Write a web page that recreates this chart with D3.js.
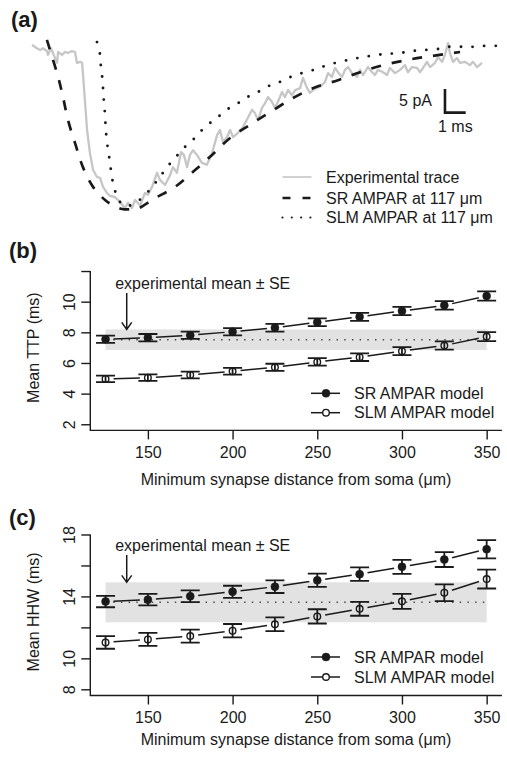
<!DOCTYPE html>
<html>
<head>
<meta charset="utf-8">
<script src="https://cdn.jsdelivr.net/npm/d3@7"></script>
<style>
  body { margin: 0; background: #fff; }
  svg text { font-family: "Liberation Sans", Arial, Helvetica, sans-serif; fill: #1a1a1a; }
</style>
</head>
<body>
<svg id="fig" width="507" height="757"></svg>
<script>
// ---------- panel (a): traces, [time (ms), current (pA)] ----------
const expTrace = [
  [0,-0.2],[0.24,-0.9],[0.39,-1.3],[0.53,-0.9],[0.72,-1.5],[0.77,-2.3],[0.92,-0.9],[1.01,-1.9],
  [1.21,-4.0],[1.26,-1.7],[1.45,-2.3],[1.59,-1.7],[1.74,-1.9],[1.93,-1.5],[2.08,-1.7],[2.17,-4.0],
  [2.32,-3.8],[2.42,-4.0],[2.46,-6.2],[2.66,-18.3],[2.80,-23.2],[2.95,-26.8],[3.14,-28.3],[3.29,-28.5],
  [3.43,-30.4],[3.62,-31.7],[3.77,-32.3],[4.01,-32.6],[4.25,-33.6],[4.49,-34.9],[4.64,-33.8],[4.83,-34.9],
  [4.98,-33.2],[5.22,-34.3],[5.46,-31.7],[5.60,-32.1],[5.80,-30.4],[6.04,-27.4],[6.18,-28.9],[6.43,-30.0],
  [6.67,-27.9],[6.81,-26.2],[7.00,-27.4],[7.20,-23.0],[7.34,-23.6],[7.49,-26.2],[7.63,-23.6],[7.78,-22.6],
  [7.97,-23.6],[8.21,-25.3],[8.45,-25.7],[8.70,-23.2],[8.94,-19.4],[9.08,-18.3],[9.23,-20.9],[9.42,-19.8],
  [9.57,-18.3],[9.71,-19.8],[9.95,-18.9],[10.19,-17.7],[10.43,-15.7],[10.63,-14.0],[10.77,-14.7],[10.92,-16.2],
  [11.11,-13.6],[11.26,-12.6],[11.40,-11.3],[11.59,-12.3],[11.74,-13.6],[11.88,-12.3],[12.08,-10.2],[12.22,-11.3],
  [12.37,-9.8],[12.56,-10.9],[12.71,-9.8],[12.95,-9.4],[13.09,-7.2],[13.29,-9.4],[13.43,-10.4],[13.57,-9.8],
  [13.91,-9.1],[14.15,-8.1],[14.30,-6.2],[14.49,-7.0],[14.64,-5.1],[14.78,-6.0],[14.98,-7.0],[15.12,-5.5],
  [15.27,-4.9],[15.46,-6.2],[15.70,-7.0],[15.85,-5.5],[15.99,-6.6],[16.23,-4.9],[16.43,-6.0],[16.57,-6.6],
  [16.71,-5.5],[16.96,-6.0],[17.15,-6.6],[17.29,-5.1],[17.54,-6.2],[17.78,-5.5],[18.02,-4.5],[18.16,-6.0],
  [18.36,-4.9],[18.60,-5.1],[18.74,-6.0],[18.89,-5.1],[19.08,-3.8],[19.23,-4.9],[19.47,-4.0],[19.61,-2.8],
  [19.81,-3.8],[19.95,-2.3],[20.10,0.2],[20.19,-1.9],[20.34,-3.8],[20.53,-3.0],[20.68,-4.0],[20.92,-3.8],
  [21.16,-4.5],[21.30,-3.8],[21.50,-4.9],[21.74,-4.0]
];
const srTrace = [
  [0.72,0.9],[0.87,-1.3],[1.26,-7.0],[1.50,-11.3],[1.74,-16.2],[2.08,-21.1],[2.46,-26.2],[2.95,-30.4],
  [3.53,-33.2],[3.91,-34.3],[4.35,-35.1],[4.73,-35.2],[5.07,-35.1],[5.94,-32.8],[6.91,-30.4],[7.78,-27.2],
  [8.70,-23.6],[9.57,-20.0],[10.53,-17.2],[11.50,-14.5],[12.61,-11.5],[13.57,-9.4],[14.78,-7.7],[15.85,-6.0],
  [16.96,-4.5],[18.12,-3.4],[19.23,-2.6],[20.68,-1.7]
];
const slmTrace = [
  [3.14,0.4],[3.29,-2.3],[3.33,-4.9],[3.40,-7.4],[3.44,-10.0],[3.48,-12.6],[3.53,-15.1],[3.56,-17.9],
  [3.61,-20.4],[3.69,-23.0],[3.77,-25.3],[3.85,-28.1],[3.96,-30.4],[4.14,-32.8],[4.40,-34.3],[4.69,-34.4],
  [4.98,-33.8],[5.36,-32.6],[5.80,-30.4],[6.18,-28.3],[6.52,-26.2],[6.91,-24.3],[7.29,-22.3],[7.73,-20.6],
  [8.12,-18.7],[8.55,-17.0],[8.99,-15.5],[9.47,-13.8],[9.95,-12.6],[10.48,-11.1],[11.01,-10.0],[11.55,-8.7],
  [12.08,-7.9],[12.61,-6.8],[13.19,-6.0],[13.77,-5.3],[14.25,-4.5],[14.88,-3.8],[15.46,-3.2],[15.99,-2.8],
  [16.67,-2.3],[17.20,-2.1],[17.78,-1.9],[18.36,-1.5],[18.89,-1.3],[19.57,-1.1],[20.10,-0.6],[20.77,-0.6],
  [21.30,-0.6],[21.88,-0.4],[22.46,-0.4]
];
const traceNames = ["Experimental trace", "SR AMPAR at 117 \u03bcm", "SLM AMPAR at 117 \u03bcm"];
const scaleBarMs = 1;
const scaleBarPA = 5;

// ---------- panels (b) and (c) ----------
const distances = [125, 150, 175, 200, 225, 250, 275, 300, 325, 350];
const ttpSR = [7.55, 7.65, 7.81, 8.04, 8.30, 8.66, 9.01, 9.39, 9.76, 10.37];
const ttpSRse = [0.24, 0.24, 0.24, 0.24, 0.25, 0.25, 0.26, 0.27, 0.28, 0.30];
const ttpSLM = [4.96, 5.04, 5.22, 5.46, 5.72, 6.07, 6.38, 6.77, 7.14, 7.72];
const ttpSLMse = [0.21, 0.21, 0.22, 0.22, 0.23, 0.24, 0.25, 0.26, 0.27, 0.29];
const hhwSR = [13.67, 13.79, 14.01, 14.30, 14.63, 15.04, 15.44, 15.91, 16.38, 17.05];
const hhwSRse = [0.37, 0.37, 0.38, 0.39, 0.41, 0.43, 0.43, 0.45, 0.48, 0.59];
const hhwSLM = [11.03, 11.22, 11.44, 11.79, 12.20, 12.71, 13.20, 13.68, 14.24, 15.12];
const hhwSLMse = [0.41, 0.42, 0.42, 0.43, 0.44, 0.46, 0.45, 0.48, 0.54, 0.61];
const expTTP = 7.52, expTTPse = 0.67;
const expHHW = 13.62, expHHWse = 1.29;
const distTicks = [150, 200, 250, 300, 350];
const ttpTicks = [2, 4, 6, 8, 10, 12];
const ttpLabels = [2, 4, 6, 8, 10];
const hhwTicks = [8, 10, 12, 14, 16, 18];
const hhwLabels = [8, 10, 14, 18];
const modelNames = ["SR AMPAR model", "SLM AMPAR model"];

const svg = d3.select("#fig");
const ink = "#1a1a1a";

function panelLabel(txt, x, y) {
  svg.append("text").attr("x", x).attr("y", y)
    .attr("font-size", 22).attr("font-weight", "bold").text(txt);
}

// ================= panel (a) =================
panelLabel("(a)", 11, 27);

const xA = d3.scaleLinear().domain([0, 22.6]).range([32, 32 + 22.6 * 20.7]);
const yA = d3.scaleLinear().domain([0, -36]).range([44, 44 + 36 * 4.7]);

const gA = svg.append("g");
gA.append("path").datum(expTrace)
  .attr("d", d3.line().x(d => xA(d[0])).y(d => yA(d[1])))
  .attr("fill", "none").attr("stroke", "#c6c6c6").attr("stroke-width", 2.3)
  .attr("stroke-linejoin", "round");

const smooth = d3.line().x(d => xA(d[0])).y(d => yA(d[1])).curve(d3.curveCatmullRom);
gA.append("path").datum(srTrace).attr("d", smooth)
  .attr("fill", "none").attr("stroke", ink).attr("stroke-width", 2.7)
  .attr("stroke-dasharray", "10 11");
gA.append("path").datum(slmTrace).attr("d", smooth)
  .attr("fill", "none").attr("stroke", ink).attr("stroke-width", 2.9)
  .attr("stroke-linecap", "round").attr("stroke-dasharray", "0 11.6");

// scale bar
const sbT = 19.95, sbI = -14.6;
gA.append("path")
  .attr("d", `M${xA(sbT)},${yA(sbI + scaleBarPA)}V${yA(sbI)}H${xA(sbT + scaleBarMs)}`)
  .attr("fill", "none").attr("stroke", ink).attr("stroke-width", 2.6);
gA.append("text").attr("x", xA(sbT) - 13).attr("y", yA(sbI + scaleBarPA / 2))
  .attr("dy", "0.35em").attr("text-anchor", "end").attr("font-size", 16)
  .text(scaleBarPA + " pA");
gA.append("text").attr("x", xA(sbT + scaleBarMs / 2)).attr("y", yA(sbI) + 14)
  .attr("dy", "0.35em").attr("text-anchor", "middle").attr("font-size", 16)
  .text(scaleBarMs + " ms");

// legend (a)
const legA = [
  { stroke: "#c6c6c6", w: 1.6, dash: null, cap: "butt" },
  { stroke: ink, w: 2.3, dash: "8 12", cap: "butt" },
  { stroke: ink, w: 2.2, dash: "0 9.3", cap: "round" }
];
const legAy = [177, 198, 217.5];
legA.forEach((s, i) => {
  gA.append("line").attr("x1", 282.5).attr("x2", 311.5)
    .attr("y1", legAy[i]).attr("y2", legAy[i])
    .attr("stroke", s.stroke).attr("stroke-width", s.w)
    .attr("stroke-dasharray", s.dash).attr("stroke-linecap", s.cap);
  gA.append("text").attr("x", 326).attr("y", legAy[i]).attr("dy", "0.35em")
    .attr("font-size", 16).text(traceNames[i]);
});

// ================= panels (b), (c) =================
function drawPanel(cfg) {
  const g = svg.append("g");
  const x = d3.scaleLinear().domain([116, 359]).range([90.3, 501.9]);
  const y = d3.scaleLinear().domain(cfg.domain).range(cfg.range);
  const y0 = y.range()[0];

  // experimental band and mean
  g.append("rect")
    .attr("x", x(125)).attr("width", x(350) - x(125))
    .attr("y", y(cfg.expMean + cfg.expSe))
    .attr("height", y(cfg.expMean - cfg.expSe) - y(cfg.expMean + cfg.expSe))
    .attr("fill", "#e2e2e2");
  g.append("line").attr("x1", x(125)).attr("x2", x(350))
    .attr("y1", y(cfg.expMean)).attr("y2", y(cfg.expMean))
    .attr("stroke", "#444").attr("stroke-width", 1.4).attr("stroke-dasharray", "1.4 6.3");

  // axes
  const xAxis = g.append("g").attr("transform", `translate(0,${y0})`)
    .call(d3.axisBottom(x).tickValues(distTicks).tickSize(9).tickFormat(d3.format("d")));
  const yAxis = g.append("g").attr("transform", `translate(${x.range()[0]},0)`)
    .call(d3.axisLeft(y).tickValues(cfg.ticks).tickSize(9)
      .tickFormat(d => cfg.labels.includes(d) ? d : ""));
  [xAxis, yAxis].forEach(a => {
    a.select(".domain").remove();
    a.selectAll("line").attr("stroke", ink).attr("stroke-width", 1.4);
    a.selectAll("text").attr("font-size", 16).attr("font-family", null).attr("fill", ink);
  });
  xAxis.selectAll("text").attr("y", 22).attr("dy", "0.35em");
  yAxis.selectAll("text").attr("x", null).attr("dy", "0.35em")
    .attr("text-anchor", "middle").attr("transform", "translate(-21,0) rotate(-90)");
  g.append("path")
    .attr("d", `M${x.range()[0]},${y(d3.max(cfg.ticks))}V${y0}H${x.range()[1]}`)
    .attr("fill", "none").attr("stroke", ink).attr("stroke-width", 1.4);

  // axis titles
  g.append("text").attr("x", 296).attr("y", cfg.xTitleY).attr("dy", "0.35em")
    .attr("text-anchor", "middle").attr("font-size", 16)
    .text("Minimum synapse distance from soma (\u03bcm)");
  g.append("text")
    .attr("transform", `translate(33,${(y.range()[0] + y.range()[1]) / 2}) rotate(-90)`)
    .attr("dy", "0.35em").attr("text-anchor", "middle").attr("font-size", 16)
    .text(cfg.yTitle);

  // series
  const series = [
    { vals: cfg.sr, se: cfg.srSe, filled: true },
    { vals: cfg.slm, se: cfg.slmSe, filled: false }
  ];
  series.forEach(s => {
    const pts = distances.map((d, i) => [x(d), y(s.vals[i])]);
    // connecting segments with gaps around the points
    const gap = 8;
    for (let i = 0; i < pts.length - 1; i++) {
      const [ax, ay] = pts[i], [bx, by] = pts[i + 1];
      const len = Math.hypot(bx - ax, by - ay);
      const ux = (bx - ax) / len, uy = (by - ay) / len;
      g.append("line")
        .attr("x1", ax + ux * gap).attr("y1", ay + uy * gap)
        .attr("x2", bx - ux * gap).attr("y2", by - uy * gap)
        .attr("stroke", ink).attr("stroke-width", 1.5);
    }
    // error bars
    g.selectAll(null).data(distances).join("path")
      .attr("d", (d, i) => {
        const cx = x(d), t = y(s.vals[i] + s.se[i]), b = y(s.vals[i] - s.se[i]);
        return `M${cx - 9.5},${t}H${cx + 9.5}M${cx},${t}V${b}M${cx - 9.5},${b}H${cx + 9.5}`;
      })
      .attr("fill", "none").attr("stroke", ink).attr("stroke-width", 1.8);
    g.selectAll(null).data(distances).join("circle")
      .attr("cx", d => x(d)).attr("cy", (d, i) => y(s.vals[i]))
      .attr("r", s.filled ? 4 : 3.3)
      .attr("fill", s.filled ? ink : "none")
      .attr("stroke", ink).attr("stroke-width", s.filled ? 0.5 : 1.4);
  });

  // arrow + annotation
  const ax = x(137.5), aTop = y(cfg.arrowTop), aBot = y(cfg.expMean + cfg.expSe);
  g.append("path")
    .attr("d", `M${ax},${aTop}V${aBot}M${ax - 5},${aBot - 7}L${ax},${aBot}L${ax + 5},${aBot - 7}`)
    .attr("fill", "none").attr("stroke", ink).attr("stroke-width", 1.5);
  g.append("text").attr("x", ax - 11.5).attr("y", aTop - 4).attr("font-size", 16)
    .text("experimental mean \u00b1 SE");

  // legend
  series.forEach((s, i) => {
    const ly = cfg.legendY[i];
    g.append("line").attr("x1", 311).attr("x2", 340).attr("y1", ly).attr("y2", ly)
      .attr("stroke", ink).attr("stroke-width", 1.5);
    g.append("circle").attr("cx", 326).attr("cy", ly)
      .attr("r", s.filled ? 4 : 3.3)
      .attr("fill", s.filled ? ink : "#fff")
      .attr("stroke", ink).attr("stroke-width", s.filled ? 0.5 : 1.4);
    g.append("text").attr("x", 354).attr("y", ly).attr("dy", "0.35em")
      .attr("font-size", 16).text(modelNames[i]);
  });
}

panelLabel("(b)", 9, 258);
drawPanel({
  domain: [1.6, 12.4], range: [430.4, 264.9],
  ticks: ttpTicks, labels: ttpLabels,
  sr: ttpSR, srSe: ttpSRse, slm: ttpSLM, slmSe: ttpSLMse,
  expMean: expTTP, expSe: expTTPse, arrowTop: 10.57,
  yTitle: "Mean TTP (ms)", xTitleY: 479, legendY: [393.3, 412.7]
});

panelLabel("(c)", 9, 525);
drawPanel({
  domain: [7.6, 18.4], range: [695.5, 528.3],
  ticks: hhwTicks, labels: hhwLabels,
  sr: hhwSR, srSe: hhwSRse, slm: hhwSLM, slmSe: hhwSLMse,
  expMean: expHHW, expSe: expHHWse, arrowTop: 16.68,
  yTitle: "Mean HHW (ms)", xTitleY: 739, legendY: [657, 677]
});
</script>
</body>
</html>
